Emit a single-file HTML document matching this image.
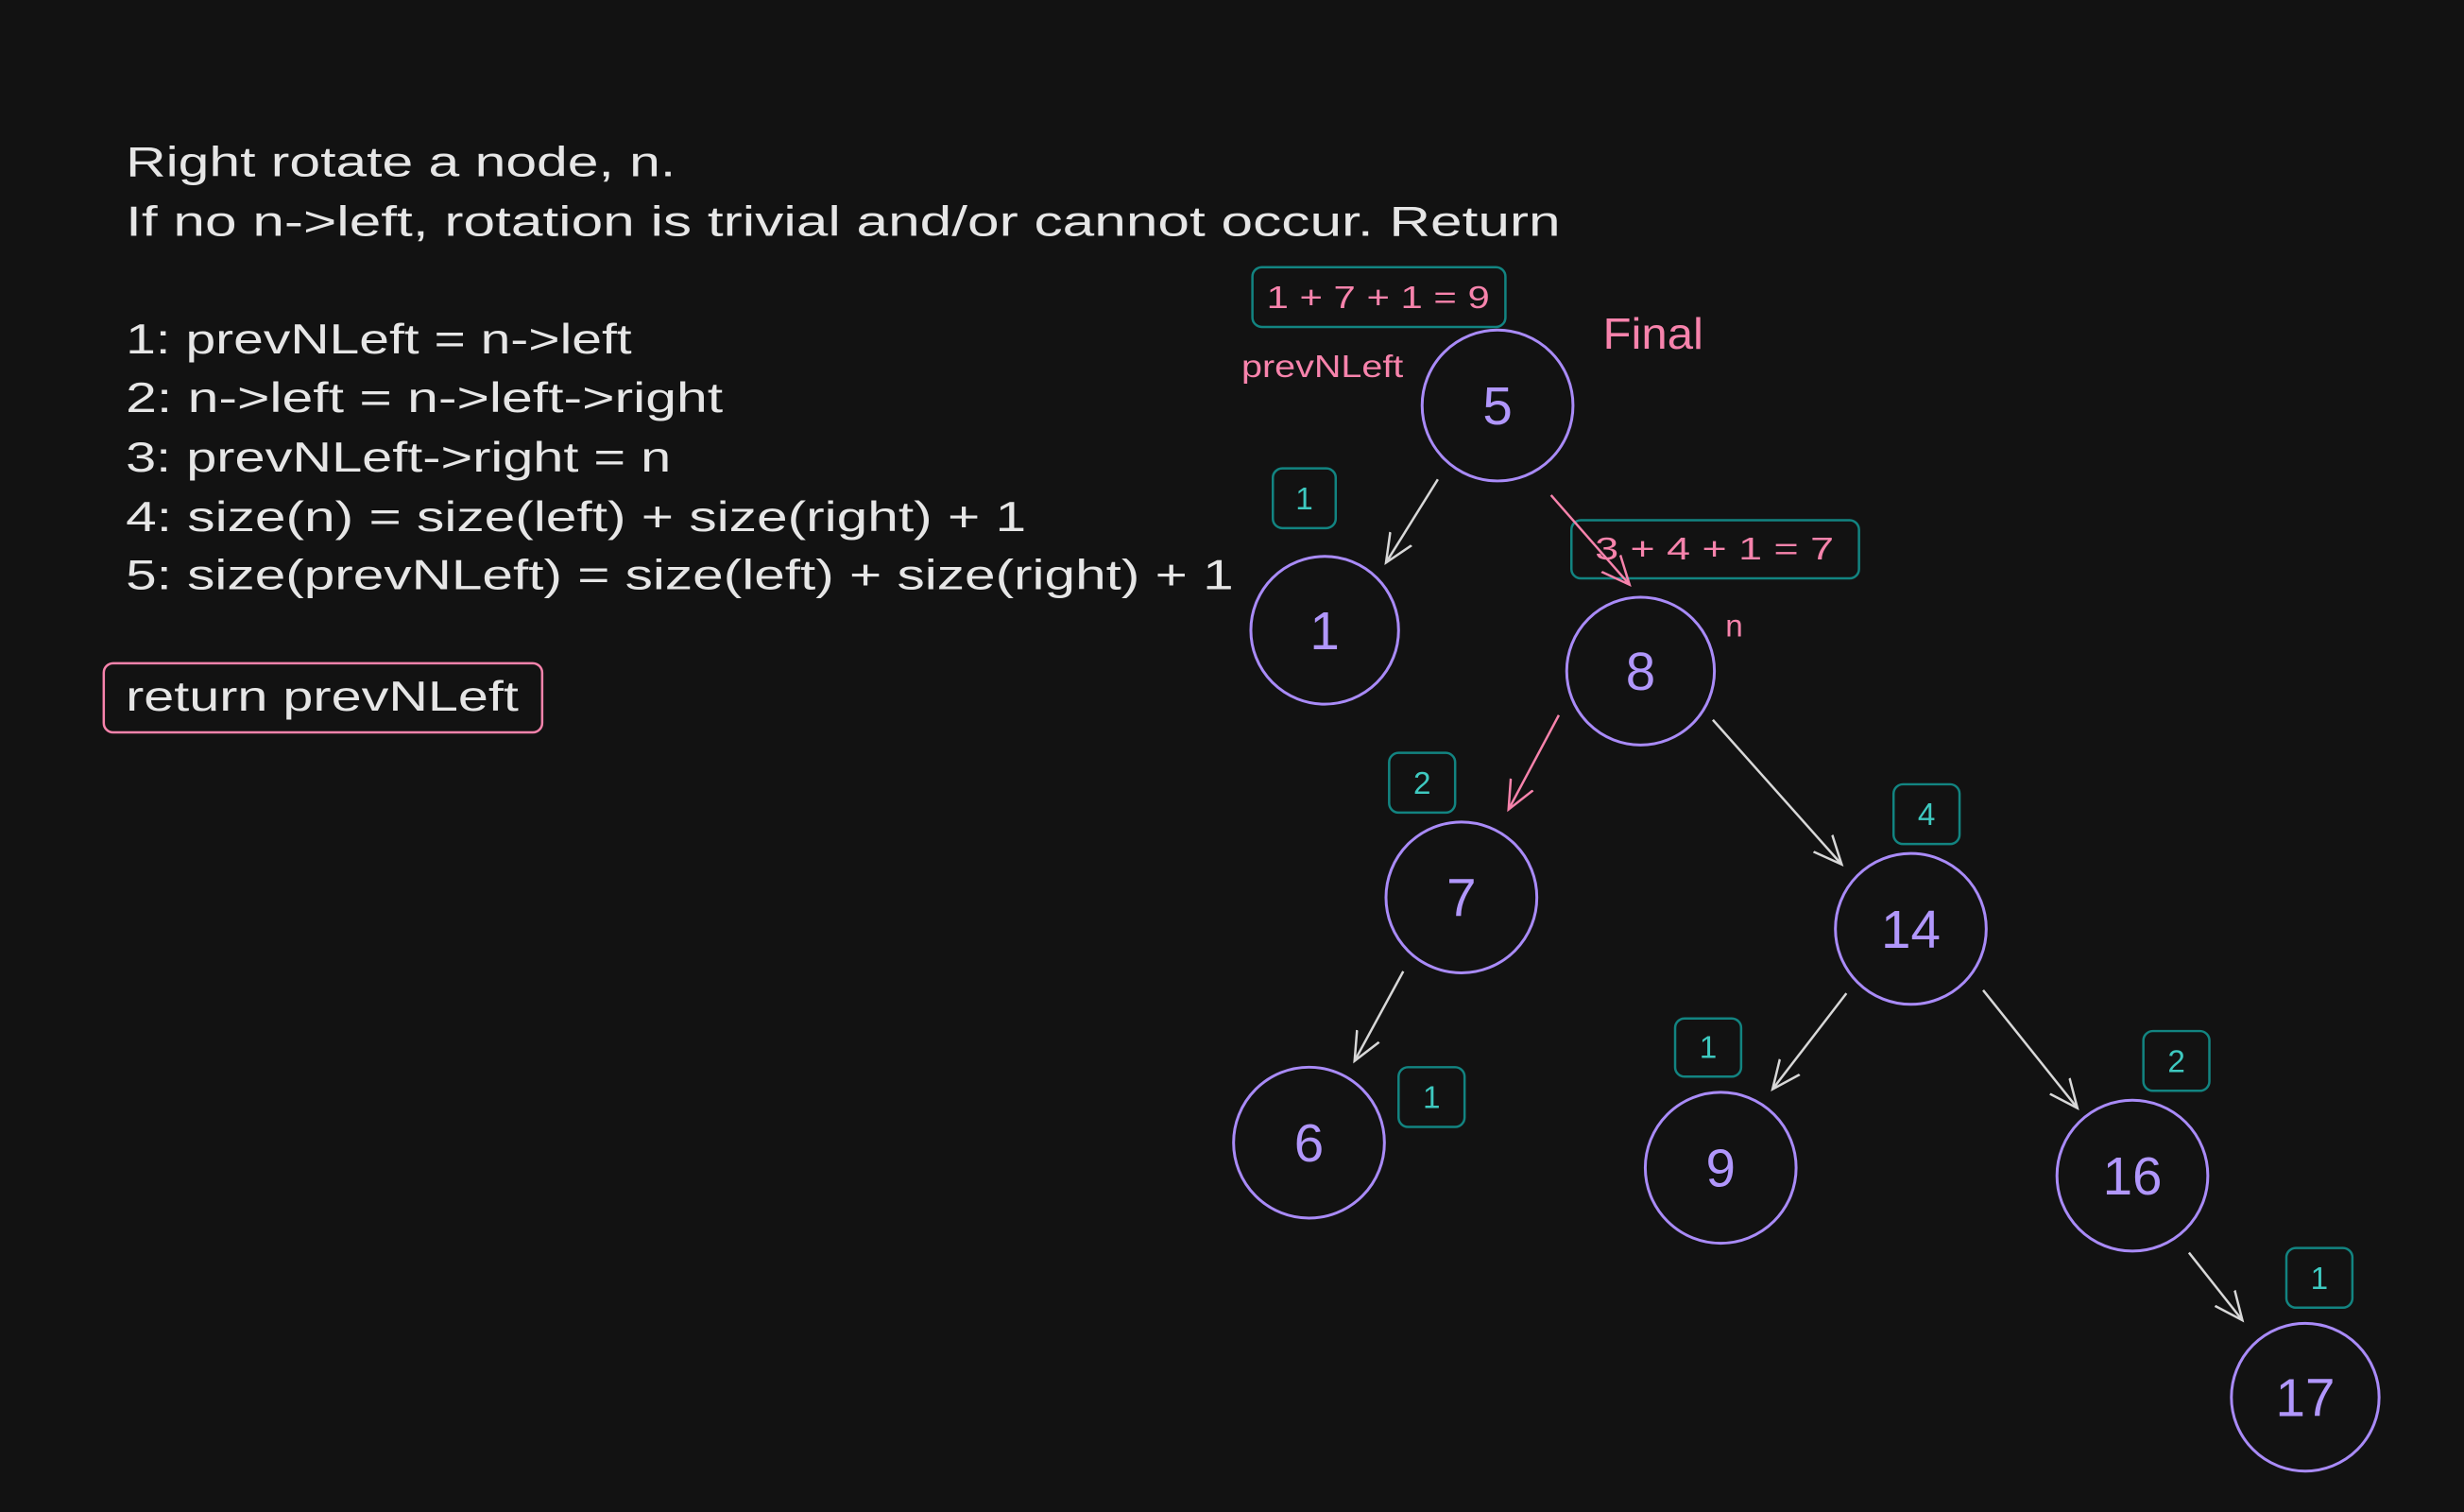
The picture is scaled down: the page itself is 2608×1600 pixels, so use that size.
<!DOCTYPE html>
<html><head><meta charset="utf-8"><style>
html,body{margin:0;padding:0;background:#121212;width:2608px;height:1600px;overflow:hidden}
svg{display:block}
text{font-family:"Liberation Sans",sans-serif}
</style></head><body>
<svg width="2608" height="1600" viewBox="0 0 1568 962" xmlns="http://www.w3.org/2000/svg">
<defs>
<marker id="aw" viewBox="0 0 20 20" refX="18" refY="10" markerWidth="20" markerHeight="20" markerUnits="userSpaceOnUse" orient="auto"><polyline points="0,2 18,10 0,18" fill="none" stroke="#d8d8d8" stroke-width="1.5"/></marker>
<marker id="ap" viewBox="0 0 20 20" refX="18" refY="10" markerWidth="20" markerHeight="20" markerUnits="userSpaceOnUse" orient="auto"><polyline points="0,2 18,10 0,18" fill="none" stroke="#f783ac" stroke-width="1.5"/></marker>
</defs>
<rect width="1568" height="962" fill="#121212"/>
<g fill="#e6e6e6" font-size="27" lengthAdjust="spacingAndGlyphs">
<text x="80" y="112" textLength="350" lengthAdjust="spacingAndGlyphs">Right rotate a node, n.</text>
<text x="80" y="150" textLength="913" lengthAdjust="spacingAndGlyphs">If no n-&gt;left, rotation is trivial and/or cannot occur. Return</text>
<text x="80" y="225" textLength="322" lengthAdjust="spacingAndGlyphs">1: prevNLeft = n-&gt;left</text>
<text x="80" y="262" textLength="380" lengthAdjust="spacingAndGlyphs">2: n-&gt;left = n-&gt;left-&gt;right</text>
<text x="80" y="300" textLength="347" lengthAdjust="spacingAndGlyphs">3: prevNLeft-&gt;right = n</text>
<text x="80" y="338" textLength="573" lengthAdjust="spacingAndGlyphs">4: size(n) = size(left) + size(right) + 1</text>
<text x="80" y="375" textLength="705" lengthAdjust="spacingAndGlyphs">5: size(prevNLeft) = size(left) + size(right) + 1</text>
<text x="80" y="452" textLength="250" lengthAdjust="spacingAndGlyphs">return prevNLeft</text>
</g>
<rect x="66" y="422" width="279" height="44" rx="6" fill="none" stroke="#f783ac" stroke-width="1.5"/>
<g fill="none" stroke="#12b5b0" stroke-opacity="0.7" stroke-width="1.5">
<rect x="797" y="170" width="161" height="38" rx="6"/>
<rect x="1000" y="331" width="183" height="37" rx="6"/>
<rect x="810" y="298" width="40" height="38" rx="6"/>
<rect x="884" y="479" width="42" height="38" rx="6"/>
<rect x="1205" y="499" width="42" height="38" rx="6"/>
<rect x="890" y="679" width="42" height="38" rx="6"/>
<rect x="1066" y="648" width="42" height="37" rx="6"/>
<rect x="1364" y="656" width="42" height="38" rx="6"/>
<rect x="1455" y="794" width="42" height="38" rx="6"/>
</g>
<g fill="#f783ac" font-size="20">
<text x="806" y="196" textLength="142" lengthAdjust="spacingAndGlyphs">1 + 7 + 1 = 9</text>
<text x="1015" y="356" textLength="152" lengthAdjust="spacingAndGlyphs">3 + 4 + 1 = 7</text>
</g>
<g fill="#3ec9c0" font-size="20" text-anchor="middle">
<text x="830" y="324">1</text><text x="905" y="505">2</text><text x="1226" y="525">4</text>
<text x="911" y="705">1</text><text x="1087" y="673">1</text><text x="1385" y="682">2</text><text x="1476" y="820">1</text>
</g>
<text x="1020" y="222" fill="#f783ac" font-size="28" textLength="64" lengthAdjust="spacingAndGlyphs">Final</text>
<text x="790" y="240" fill="#f783ac" font-size="20" textLength="103" lengthAdjust="spacingAndGlyphs">prevNLeft</text>
<text x="1098" y="405" fill="#f783ac" font-size="20">n</text>
<g fill="none" stroke="#a98bf8" stroke-width="1.8">
<circle cx="953" cy="258" r="48"/><circle cx="843" cy="401" r="47"/><circle cx="1044" cy="427" r="47"/>
<circle cx="930" cy="571" r="48"/><circle cx="1216" cy="591" r="48"/><circle cx="833" cy="727" r="48"/>
<circle cx="1095" cy="743" r="48"/><circle cx="1357" cy="748" r="48"/><circle cx="1467" cy="889" r="47"/>
</g>
<g fill="#b197fc" font-size="34" text-anchor="middle">
<text x="953" y="270">5</text><text x="843" y="413">1</text><text x="1044" y="439">8</text>
<text x="930" y="583">7</text><text x="1216" y="603">14</text><text x="833" y="739">6</text>
<text x="1095" y="755">9</text><text x="1357" y="760">16</text><text x="1467" y="901">17</text>
</g>
<g stroke="#d8d8d8" stroke-width="1.5" fill="none" marker-end="url(#aw)">
<line x1="915" y1="305" x2="882" y2="358"/>
<line x1="1090" y1="458" x2="1172" y2="550"/>
<line x1="893" y1="618" x2="862" y2="675"/>
<line x1="1175" y1="632" x2="1128" y2="693"/>
<line x1="1262" y1="630" x2="1322" y2="705"/>
<line x1="1393" y1="797" x2="1427" y2="840"/>
</g>
<g stroke="#f783ac" stroke-width="1.5" fill="none" marker-end="url(#ap)">
<line x1="987" y1="315" x2="1037" y2="372"/>
<line x1="992" y1="455" x2="960" y2="515"/>
</g>
</svg>
</body></html>
